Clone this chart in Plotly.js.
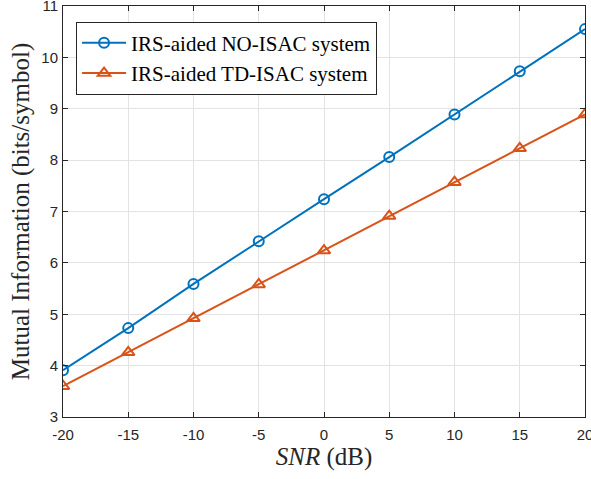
<!DOCTYPE html>
<html><head><meta charset="utf-8">
<script src="https://cdn.plot.ly/plotly-3.0.1.min.js"></script>
<style>body{margin:0;padding:0;background:#fff}#chart{width:591px;height:479px}</style>
</head><body><div id="chart"></div>
<script>
const snr = [-20, -15, -10, -5, 0, 5, 10, 15, 20];
const noIsac = [3.91, 4.73, 5.59, 6.42, 7.24, 8.06, 8.89, 9.73, 10.55];
const tdIsac = [3.60, 4.26, 4.92, 5.58, 6.24, 6.91, 7.57, 8.23, 8.89];
const seriesNames = ['IRS-aided NO-ISAC system', 'IRS-aided TD-ISAC system'];
const xTicks = [-20, -15, -10, -5, 0, 5, 10, 15, 20];
const xTickText = ['-20', '-15', '-10', '-5', '0', '5', '10', '15', '20'];
const yTicks = [3, 4, 5, 6, 7, 8, 9, 10, 11];
const yTickText = ['3', '4', '5', '6', '7', '8', '9', '10', '11'];

const traces = [
  {x: snr, y: noIsac, name: seriesNames[0], mode: 'lines+markers', type: 'scatter',
   line: {color: '#0072BD', width: 2},
   marker: {symbol: 'circle-open', size: 10, color: '#0072BD', line: {width: 2, color: '#0072BD'}}},
  {x: snr, y: tdIsac, name: seriesNames[1], mode: 'lines+markers', type: 'scatter',
   line: {color: '#D95319', width: 2},
   marker: {symbol: 'triangle-up-open', size: 11, color: '#D95319', line: {width: 2, color: '#D95319'}}}
];
const axisCommon = {
  showline: true, linecolor: '#262626', linewidth: 1, mirror: 'ticks',
  ticks: 'inside', ticklen: 5, tickcolor: '#262626', tickwidth: 1,
  showgrid: true, gridcolor: '#e3e3e3', gridwidth: 1, zeroline: false,
  ticklabeloverflow: 'allow',
  tickfont: {family: 'Liberation Sans, Arial, sans-serif', size: 15, color: '#262626'}
};
const layout = {
  width: 591, height: 479,
  margin: {l: 63, r: 6, t: 6, b: 62},
  paper_bgcolor: '#fff', plot_bgcolor: '#fff',
  showlegend: true,
  legend: {x: 0.025, y: 0.962, xanchor: 'left', yanchor: 'top',
    bgcolor: '#fff', bordercolor: '#262626', borderwidth: 1,
    font: {family: 'Liberation Serif, Times New Roman, serif', size: 21, color: '#000'},
    tracegroupgap: 0, itemwidth: 44},
  xaxis: Object.assign({}, axisCommon, {range: [-20, 20], tickvals: xTicks, ticktext: xTickText,
    ticklabelstandoff: 4,
    title: {text: '<i>SNR</i> (dB)', standoff: 2, font: {family: 'Liberation Serif, Times New Roman, serif', size: 25, color: '#262626'}}}),
  yaxis: Object.assign({}, axisCommon, {range: [3, 11], tickvals: yTicks, ticktext: yTickText,
    ticklabelstandoff: 1,
    title: {text: 'Mutual Information (bits/symbol)', standoff: 4, font: {family: 'Liberation Serif, Times New Roman, serif', size: 25, color: '#262626'}}})
};
Plotly.newPlot('chart', traces, layout, {displayModeBar: false, staticPlot: true});
</script></body></html>
